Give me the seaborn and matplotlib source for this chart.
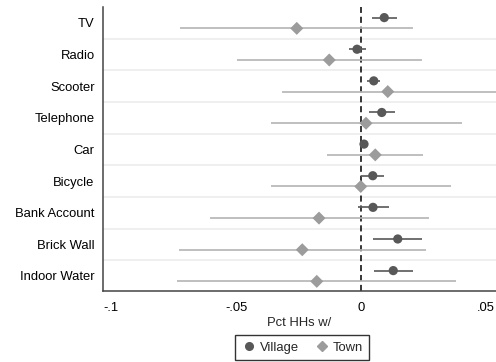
import matplotlib
matplotlib.use("Agg")
import matplotlib.pyplot as plt
from matplotlib.lines import Line2D
import numpy as np
import pandas as pd
import seaborn as sns

# Asset categories (top to bottom)
items = ["TV", "Radio", "Scooter", "Telephone", "Car", "Bicycle",
         "Bank Account", "Brick Wall", "Indoor Water"]

# Village estimates with 95% CI
village_est = [0.0093, -0.0016, 0.0051, 0.0083, 0.0012, 0.0047, 0.0048, 0.0147, 0.0129]
village_lo = [0.0043, -0.0048, 0.0025, 0.0032, 0.0006, 0.0000, -0.0013, 0.0048, 0.0051]
village_hi = [0.0143, 0.0019, 0.0077, 0.0135, 0.0018, 0.0091, 0.0110, 0.0245, 0.0209]

# Town estimates with 95% CI
town_est = [-0.0257, -0.0127, 0.0107, 0.0020, 0.0057, -0.0001, -0.0168, -0.0235, -0.0177]
town_lo = [-0.0724, -0.0497, -0.0317, -0.0361, -0.0135, -0.0360, -0.0604, -0.0728, -0.0737]
town_hi = [0.0207, 0.0245, 0.0540, 0.0403, 0.0249, 0.0360, 0.0271, 0.0260, 0.0380]

xticks = [-0.1, -0.05, 0, 0.05]
xticklabels = ["-.1", "-.05", "0", ".05"]

sns.set_style("white")
plt.rcParams["font.family"] = ["Liberation Sans", "DejaVu Sans"]
plt.rcParams["font.size"] = 9.4

village_col = "#585858"
town_col = "#9c9c9c"
town_line = "#b4b4b4"

pos = np.arange(len(items))
off = 0.17
df = pd.concat([
    pd.DataFrame({"item": items, "y": pos - off, "est": village_est,
                  "lo": village_lo, "hi": village_hi, "group": "Village"}),
    pd.DataFrame({"item": items, "y": pos + off, "est": town_est,
                  "lo": town_lo, "hi": town_hi, "group": "Town"}),
])

fig = plt.figure(figsize=(4.96, 3.62), dpi=100)
ax = fig.add_axes([0.2077, 0.197, 0.7923, 0.7837])

# separators between categories
for b in pos[:-1] + 0.5:
    ax.axhline(b, color="#ebebeb", lw=1.1, zorder=0)

ax.axvline(0, color="black", lw=1.1, ls=(0, (4, 2.5)), zorder=1)

v = df[df.group == "Village"]
t = df[df.group == "Town"]
ax.hlines(t["y"], t["lo"], t["hi"], color=town_line, lw=1.2, zorder=2)
ax.hlines(v["y"], v["lo"], v["hi"], color=village_col, lw=1.2, zorder=2)

sns.scatterplot(data=df, x="est", y="y", hue="group", style="group",
                markers={"Village": "o", "Town": "D"},
                palette={"Village": village_col, "Town": town_col},
                s=44, edgecolor="none", legend=False, ax=ax, zorder=3)

ax.set_ylim(len(items) - 1 + 0.465, -0.506)
ax.set_xlim(-0.1032, 0.054)
ax.set_yticks(pos)
ax.set_yticklabels(items)
ax.set_xticks(xticks)
ax.set_xticklabels(xticklabels)
ax.set_xlabel("Pct HHs w/", labelpad=2)
ax.set_ylabel("")

for s in ["top", "right"]:
    ax.spines[s].set_visible(False)
for s in ["left", "bottom"]:
    ax.spines[s].set_color("#444444")
    ax.spines[s].set_linewidth(1.1)
ax.tick_params(axis="both", direction="out", length=4, width=1, color="#333333",
               labelcolor="black", pad=2)
ax.tick_params(axis="x", pad=4)

handles = [
    Line2D([], [], marker="o", ls="none", color=village_col, markersize=5.5, label="Village"),
    Line2D([], [], marker="D", ls="none", color=town_col, markersize=5, label="Town"),
]
leg = fig.legend(handles=handles, loc="lower center", ncol=2,
                 bbox_to_anchor=(302 / 496, 0.005), frameon=True, fancybox=False,
                 handletextpad=0.2, columnspacing=1.2, handlelength=1.2,
                 borderpad=0.5, borderaxespad=0)
leg.get_frame().set_edgecolor("black")
leg.get_frame().set_linewidth(1.0)

fig.savefig("out.png", dpi=100)
